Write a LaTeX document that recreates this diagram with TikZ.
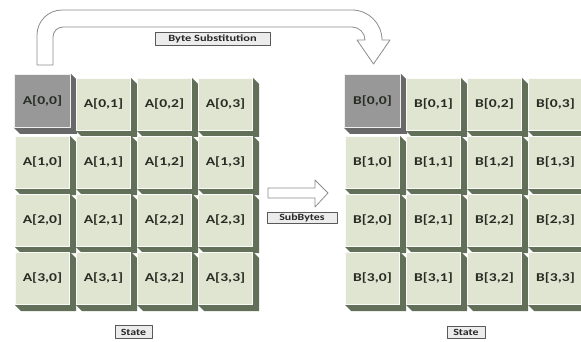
\documentclass[tikz,border=0pt]{standalone}
\usepackage{fontspec}
\setmainfont{Carlito}
\usepackage{xcolor}
\usepackage{tikz}
\definecolor{cellface}{RGB}{224,229,210}
\definecolor{cellside}{RGB}{98,112,90}
\definecolor{keyface}{RGB}{152,152,152}
\definecolor{keyside}{RGB}{104,104,104}
\definecolor{arrowline}{RGB}{140,140,140}
\definecolor{celltextcol}{RGB}{40,45,35}
\tikzset{
  celltext/.style={font=\fontsize{12}{13}\selectfont\bfseries,text=celltextcol,inner sep=0pt},
  tagbox/.style={draw=gray!70!black,line width=0.7pt,fill=gray!15,inner sep=1pt,font=\fontsize{9.5}{10}\selectfont\bfseries,text=black!85},
  blockarrow/.style={draw=arrowline,fill=white,line width=0.8pt}
}

\begin{document}
\begin{tikzpicture}[x=1pt,y=-1pt,line join=round]
  \useasboundingbox (0,0) rectangle (581,342);
  \clip (0,0) rectangle (581,342);
  % bent arrow on top
  \draw[blockarrow] (37,65) -- (37,35) arc[start angle=180,end angle=270,radius=25]
    -- (352,10) arc[start angle=270,end angle=360,radius=30]
    -- (390,40) -- (373.5,64) -- (357,40) -- (365,40)
    arc[start angle=0,end angle=-90,radius=13]
    -- (63,27) arc[start angle=270,end angle=180,radius=10]
    -- (53,65) -- cycle;
  \node[tagbox,minimum width=115pt,minimum height=13pt] (bytesub) at (212.5,38.5) {\scalebox{1.3}[1]{Byte Substitution}};
  % the two states, first byte in grey
  \foreach \m/\bx in {A/15,B/345}{
    \foreach \r in {0,1,2,3}{
      \foreach \c in {0,1,2,3}{
        \pgfmathsetmacro{\xa}{\bx+61*\c}
        \pgfmathsetmacro{\ya}{78+58*\r}
        \def\w{55}\def\h{53}\def\fc{cellface}\def\sc{cellside}
        \ifnum\r\c=0
          \pgfmathsetmacro{\xa}{\bx-1}\def\ya{74}\def\w{57}\def\h{54}\def\fc{keyface}\def\sc{keyside}
        \fi
        \fill[\sc] (\xa+\w,\ya) -- (\xa+\w+6,\ya+6) -- (\xa+\w+6,\ya+\h+6) -- (\xa+6,\ya+\h+6) -- (\xa,\ya+\h) -- cycle;
        \fill[\fc] (\xa,\ya) rectangle ++(\w,\h);
        \draw[white!85!\fc,line width=0.4pt] (\xa+0.5,\ya+0.5) rectangle ++(\w-1,\h-1);
        \node[celltext] (\m\r\c) at (\xa+\w/2,\ya+\h/2) {\scalebox{1.3}[1]{\m[\r,\c]}};
      }
    }
  }
  % SubBytes arrow
  \draw[blockarrow] (268,188) -- (315,188) -- (315,180) -- (328,193) -- (315,207) -- (315,198) -- (268,198) -- cycle;
  \node[tagbox,minimum width=70pt,minimum height=11pt] (subbytes) at (302,217.5) {\scalebox{1.25}[1]{SubBytes}};
  \node[tagbox,minimum width=37pt,minimum height=13pt] (stateA) at (133.5,332) {\scalebox{1.25}[1]{State}};
  \node[tagbox,minimum width=38pt,minimum height=12pt] (stateB) at (466,332.5) {\scalebox{1.25}[1]{State}};
\end{tikzpicture}
\end{document}
